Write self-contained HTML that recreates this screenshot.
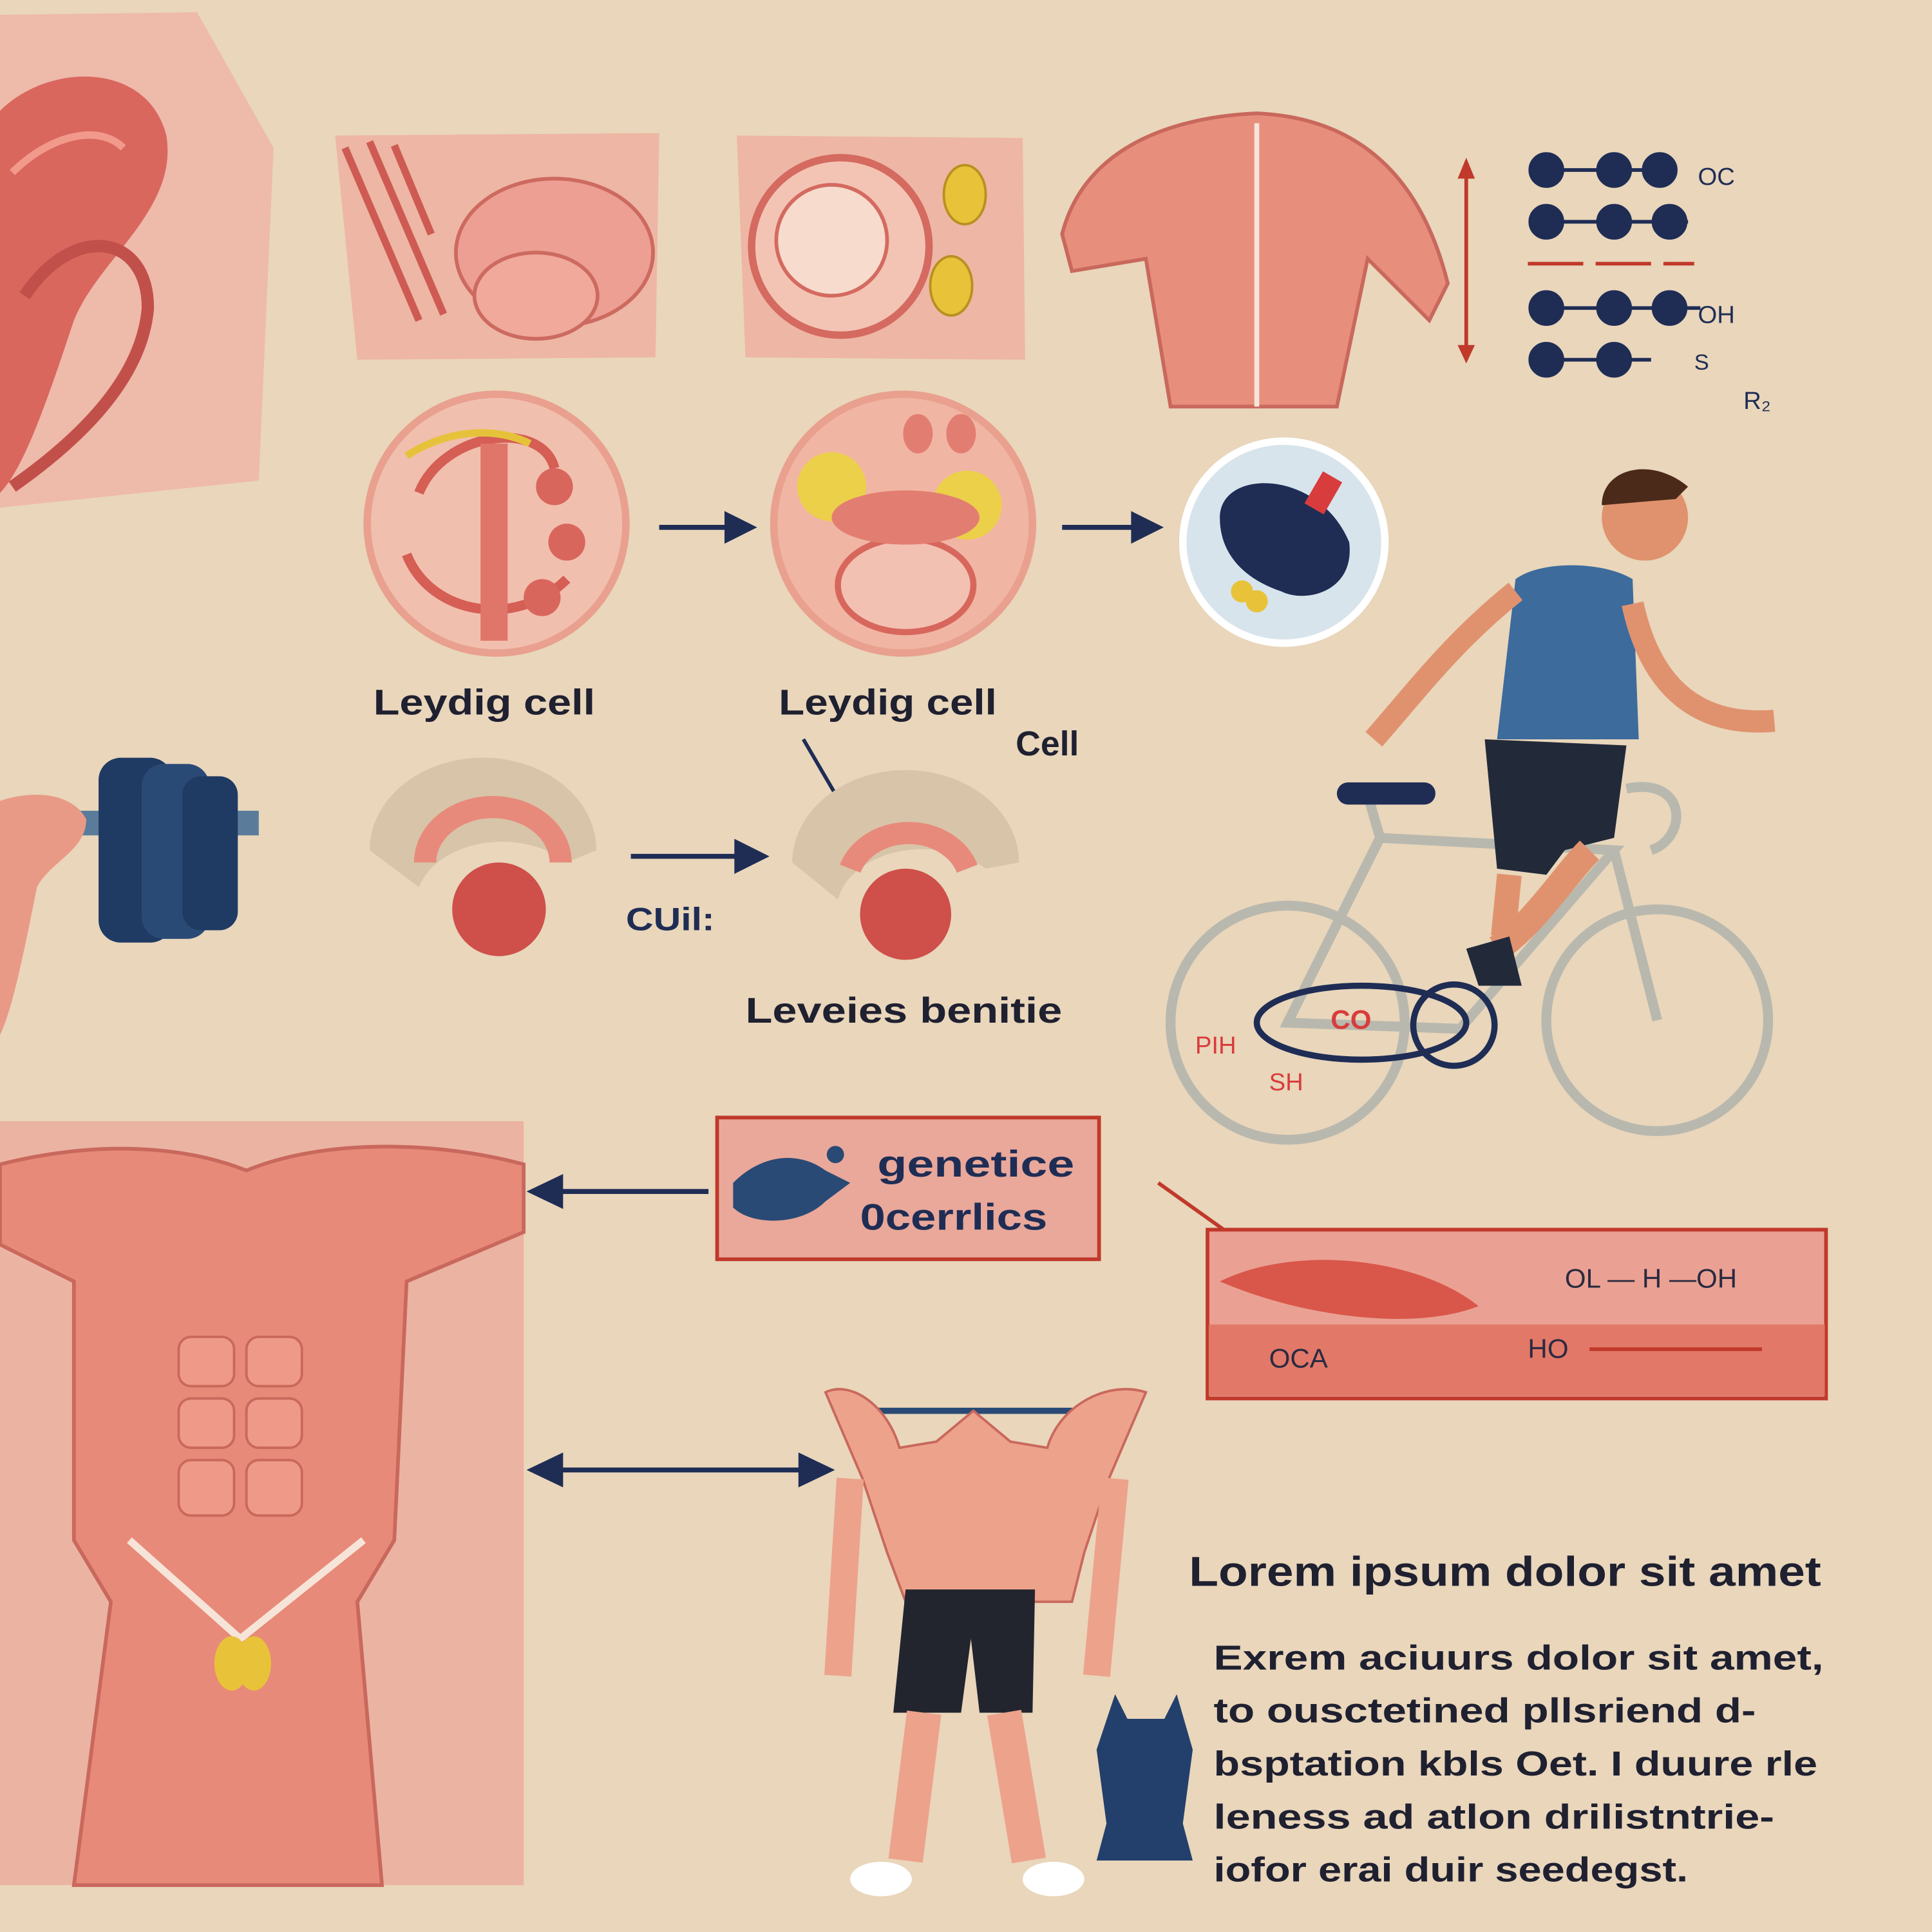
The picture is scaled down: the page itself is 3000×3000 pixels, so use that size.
<!DOCTYPE html>
<html><head><meta charset="utf-8"><style>
html,body{margin:0;padding:0;background:#e9d6bb;}
svg{display:block;}
text{font-family:"Liberation Sans",sans-serif;}
</style></head><body>
<svg width="3000" height="3000" viewBox="0 0 1568 1568" xmlns="http://www.w3.org/2000/svg">
<rect width="1568" height="1568" fill="#e9d6bb"/>

<path d="M0,12 L160,10 L222,120 L210,390 L0,412 Z" fill="#eebaa9"/>
<path d="M0,90 C40,50 120,50 135,110 C145,170 80,210 60,260 C40,320 20,380 0,400 Z" fill="#d9675e"/>
<path d="M20,240 C60,180 120,190 120,250 C115,310 60,360 10,395" fill="none" stroke="#c2504a" stroke-width="10"/>
<path d="M10,140 C40,110 80,100 100,120" fill="none" stroke="#f19a8c" stroke-width="6"/>

<path d="M272,110 L535,108 L532,290 L290,292 Z" fill="#eeb6a4"/>
<path d="M280,120 L340,260 M300,115 L360,255 M320,118 L350,190" stroke="#cd5b54" stroke-width="6" fill="none"/>
<ellipse cx="450" cy="205" rx="80" ry="60" fill="#ec9f92" stroke="#cd6a60" stroke-width="3"/>
<ellipse cx="435" cy="240" rx="50" ry="35" fill="#f0a99a" stroke="#cd6a60" stroke-width="3"/>

<path d="M598,110 L830,112 L832,292 L605,290 Z" fill="#eeb6a4"/>
<circle cx="682" cy="200" r="72" fill="#f3c4b4" stroke="#d46a60" stroke-width="6"/>
<circle cx="675" cy="195" r="45" fill="#f7dbcd" stroke="#d46a60" stroke-width="3"/>
<ellipse cx="783" cy="158" rx="17" ry="24" fill="#e8c33a" stroke="#b99020" stroke-width="2"/>
<ellipse cx="772" cy="232" rx="17" ry="24" fill="#e8c33a" stroke="#b99020" stroke-width="2"/>

<path d="M862,190 C880,120 950,95 1020,92 C1090,95 1150,130 1175,230 L1160,260 L1110,210 L1085,330 L950,330 L930,210 L870,220 Z" fill="#e88e7d" stroke="#c9685c" stroke-width="3"/>
<line x1="1020" y1="100" x2="1020" y2="330" stroke="#f7e4d8" stroke-width="4"/>
<line x1="1190" y1="140" x2="1190" y2="285" stroke="#c0392b" stroke-width="3"/>
<path d="M1183,145 L1190,128 L1197,145 Z M1183,280 L1190,295 L1197,280 Z" fill="#c0392b"/>

<g fill="#1f2d55" stroke="#1f2d55" stroke-width="3">
<line x1="1255" y1="138" x2="1352" y2="138"/><line x1="1255" y1="180" x2="1370" y2="180"/>
<line x1="1255" y1="250" x2="1380" y2="250"/><line x1="1255" y1="292" x2="1340" y2="292"/>
<circle cx="1255" cy="138" r="13"/><circle cx="1310" cy="138" r="13"/><circle cx="1347" cy="138" r="13"/>
<circle cx="1255" cy="180" r="13"/><circle cx="1310" cy="180" r="13"/><circle cx="1355" cy="180" r="13"/>
<circle cx="1255" cy="250" r="13"/><circle cx="1310" cy="250" r="13"/><circle cx="1355" cy="250" r="13"/>
<circle cx="1255" cy="292" r="13"/><circle cx="1310" cy="292" r="13"/>
</g>
<line x1="1240" y1="214" x2="1375" y2="214" stroke="#c0392b" stroke-width="3" stroke-dasharray="45,10"/>
<text x="1378" y="150" font-size="20" fill="#1f2d55">OC</text>
<text x="1378" y="262" font-size="20" fill="#1f2d55">OH</text>
<text x="1375" y="300" font-size="18" fill="#1f2d55">S</text>
<text x="1415" y="332" font-size="20" fill="#1f2d55">R₂</text>

<circle cx="403" cy="425" r="105" fill="#f1bfae" stroke="#e9a08f" stroke-width="6"/>
<path d="M340,400 C360,350 440,340 450,380 M330,450 C350,500 420,510 460,470" stroke="#d55e55" stroke-width="8" fill="none"/>
<rect x="390" y="360" width="22" height="160" fill="#e0756a"/>
<circle cx="450" cy="395" r="15" fill="#d9665d"/><circle cx="460" cy="440" r="15" fill="#d9665d"/><circle cx="440" cy="485" r="15" fill="#d9665d"/>
<path d="M330,370 C360,350 400,345 430,360" stroke="#e6c23a" stroke-width="6" fill="none"/>

<circle cx="733" cy="425" r="105" fill="#f1b5a3" stroke="#e9a08f" stroke-width="6"/>
<circle cx="675" cy="395" r="28" fill="#ecd04a"/><circle cx="785" cy="410" r="28" fill="#ecd04a"/>
<ellipse cx="735" cy="475" rx="55" ry="38" fill="#f3c1b2" stroke="#d7675d" stroke-width="5"/>
<ellipse cx="735" cy="420" rx="60" ry="22" fill="#e27e71"/>
<ellipse cx="745" cy="352" rx="12" ry="16" fill="#e27e71"/><ellipse cx="780" cy="352" rx="12" ry="16" fill="#e27e71"/>

<circle cx="1042" cy="440" r="82" fill="#d8e4ec" stroke="#ffffff" stroke-width="6"/>
<path d="M990,420 C990,380 1070,380 1095,440 C1100,480 1060,490 1040,480 C1010,470 990,450 990,420 Z" fill="#1f2d55"/>
<rect x="1065" y="385" width="18" height="30" fill="#d93c3c" transform="rotate(30 1074 400)"/>
<circle cx="1008" cy="480" r="9" fill="#e8c33a"/><circle cx="1020" cy="488" r="9" fill="#e8c33a"/>

<g stroke="#1f2d55" stroke-width="4" fill="#1f2d55">
<line x1="535" y1="428" x2="595" y2="428"/><path d="M590,418 L610,428 L590,438 Z"/>
<line x1="862" y1="428" x2="925" y2="428"/><path d="M920,418 L940,428 L920,438 Z"/>
<line x1="512" y1="695" x2="605" y2="695"/><path d="M598,684 L620,695 L598,706 Z"/>
<line x1="450" y1="967" x2="575" y2="967"/><path d="M455,956 L432,967 L455,978 Z"/>
<line x1="450" y1="1193" x2="655" y2="1193"/><path d="M455,1182 L432,1193 L455,1204 Z"/><path d="M650,1182 L673,1193 L650,1204 Z"/>
</g>
<line x1="652" y1="600" x2="690" y2="665" stroke="#1f2d55" stroke-width="3"/>

<text x="303" y="580" font-size="29" font-weight="bold" fill="#1f2030" textLength="180" lengthAdjust="spacingAndGlyphs">Leydig cell</text>
<text x="632" y="580" font-size="29" font-weight="bold" fill="#1f2030" textLength="177" lengthAdjust="spacingAndGlyphs">Leydig cell</text>
<text x="850" y="613" font-size="28" font-weight="bold" fill="#1f2030" text-anchor="middle">Cell</text>
<text x="508" y="755" font-size="26" font-weight="bold" fill="#1f2d55" textLength="72" lengthAdjust="spacingAndGlyphs">CUil:</text>
<text x="605" y="830" font-size="29" font-weight="bold" fill="#1f2030" textLength="257" lengthAdjust="spacingAndGlyphs">Leveies benitie</text>

<path d="M300,690 A92,75 0 1 1 484,690 L460,700 A70,50 0 0 0 340,720 Z" fill="#d8c4a8"/>
<path d="M345,700 A55,45 0 0 1 455,700" fill="none" stroke="#e88a7b" stroke-width="18"/>
<circle cx="405" cy="738" r="38" fill="#cf4f4a"/>
<path d="M643,700 A92,75 0 1 1 827,700 L800,705 A70,50 0 0 0 680,730 Z" fill="#d8c4a8"/>
<path d="M690,705 A50,42 0 0 1 785,705" fill="none" stroke="#e88a7b" stroke-width="18"/>
<circle cx="735" cy="742" r="37" fill="#cf4f4a"/>

<rect x="0" y="658" width="210" height="20" fill="#5a7c9a"/>
<rect x="80" y="615" width="60" height="150" rx="18" fill="#1f3a63"/>
<rect x="115" y="620" width="55" height="142" rx="18" fill="#2a4a76"/>
<rect x="148" y="630" width="45" height="125" rx="15" fill="#1f3a63"/>
<path d="M0,650 C30,640 60,645 70,665 C70,690 40,700 30,720 C20,770 10,820 0,840 Z" fill="#e99a87"/>

<g fill="none" stroke="#b8b8ae" stroke-width="8">
<circle cx="1045" cy="830" r="95"/><circle cx="1345" cy="828" r="90"/>
<path d="M1045,830 L1120,680 L1310,690 L1185,835 Z M1310,690 L1345,828 M1120,680 L1110,645"/>
</g>
<rect x="1085" y="635" width="80" height="18" rx="9" fill="#1f2d55"/>
<path d="M1320,640 C1370,630 1370,680 1340,690" stroke="#b8b8ae" stroke-width="8" fill="none"/>
<ellipse cx="1105" cy="830" rx="85" ry="30" fill="none" stroke="#1f2d55" stroke-width="5"/>
<circle cx="1180" cy="832" r="33" fill="none" stroke="#1f2d55" stroke-width="5"/>
<text x="1080" y="835" font-size="22" fill="#d93c3c" font-weight="bold">CO</text>
<text x="970" y="855" font-size="20" fill="#d93c3c">PIH</text>
<text x="1030" y="885" font-size="20" fill="#d93c3c">SH</text>
<path d="M1215,600 L1230,470 C1250,455 1300,455 1325,470 L1330,600 Z" fill="#3d6b9c"/>
<path d="M1205,600 L1320,605 L1310,680 L1270,690 L1255,710 L1215,705 Z" fill="#222a3a"/>
<path d="M1230,480 C1180,520 1150,560 1115,600" stroke="#e0926e" stroke-width="18" fill="none"/>
<path d="M1325,490 C1340,560 1380,590 1440,585" stroke="#e0926e" stroke-width="18" fill="none"/>
<path d="M1290,690 C1270,710 1245,750 1215,770" stroke="#e0926e" stroke-width="22" fill="none"/>
<path d="M1225,710 L1220,760" stroke="#e0926e" stroke-width="20"/>
<path d="M1190,770 L1225,760 L1235,800 L1200,800 Z" fill="#222a3a"/>
<circle cx="1335" cy="420" r="35" fill="#e0926e"/>
<path d="M1300,410 C1300,380 1340,370 1370,395 L1360,405 Z" fill="#4b2a1a"/>

<rect x="0" y="910" width="425" height="620" fill="#ebb3a2"/>
<path d="M0,945 C80,925 150,930 200,950 C260,925 350,925 425,945 L425,1000 L330,1040 L320,1250 L290,1300 L310,1530 L60,1530 L90,1300 L60,1250 L60,1040 L0,1010 Z" fill="#e88a79" stroke="#c9685c" stroke-width="3"/>
<g fill="#ef9a89" stroke="#c9685c" stroke-width="2">
<rect x="145" y="1085" width="45" height="40" rx="10"/><rect x="200" y="1085" width="45" height="40" rx="10"/>
<rect x="145" y="1135" width="45" height="40" rx="10"/><rect x="200" y="1135" width="45" height="40" rx="10"/>
<rect x="145" y="1185" width="45" height="45" rx="10"/><rect x="200" y="1185" width="45" height="45" rx="10"/>
</g>
<path d="M105,1250 L195,1330 L295,1250" stroke="#f7e4d8" stroke-width="6" fill="none"/>
<ellipse cx="188" cy="1350" rx="14" ry="22" fill="#e8c33a"/><ellipse cx="206" cy="1350" rx="14" ry="22" fill="#e8c33a"/>

<rect x="582" y="907" width="310" height="115" fill="#e9a89a" stroke="#c0392b" stroke-width="3"/>
<path d="M595,960 C620,935 650,935 670,950 L690,960 L670,975 C650,995 610,995 595,980 Z" fill="#2a4a76"/>
<circle cx="678" cy="937" r="7" fill="#2a4a76"/>
<text x="712" y="955" font-size="30" font-weight="bold" fill="#1f2d55" textLength="160" lengthAdjust="spacingAndGlyphs">genetice</text>
<text x="698" y="998" font-size="30" font-weight="bold" fill="#1f2d55" textLength="152" lengthAdjust="spacingAndGlyphs">0cerrlics</text>

<line x1="940" y1="960" x2="1010" y2="1010" stroke="#c0392b" stroke-width="3"/>
<rect x="980" y="998" width="502" height="137" fill="#eaa193" stroke="#c0392b" stroke-width="3"/>
<rect x="981" y="1075" width="500" height="58" fill="#e27868"/>
<path d="M990,1040 C1050,1010 1150,1020 1200,1060 C1150,1080 1060,1070 990,1040 Z" fill="#d9574a"/>
<line x1="1290" y1="1095" x2="1430" y2="1095" stroke="#c0392b" stroke-width="3"/>
<text x="1270" y="1045" font-size="22" fill="#2a2a40">OL — H —OH</text>
<text x="1030" y="1110" font-size="22" fill="#2a2a40">OCA</text>
<text x="1240" y="1102" font-size="22" fill="#2a2a40">HO</text>

<path d="M700,1145 L870,1145" stroke="#2a4a76" stroke-width="5"/>
<path d="M670,1130 C690,1120 720,1140 730,1175 L760,1170 L790,1145 L820,1170 L850,1175 C860,1140 900,1120 930,1130 L900,1200 L880,1260 L870,1300 L735,1300 L720,1260 L700,1200 Z" fill="#eda28c" stroke="#c9685c" stroke-width="2"/>
<path d="M690,1200 L680,1360 M905,1200 L890,1360" stroke="#eda28c" stroke-width="22"/>
<path d="M735,1290 L840,1290 L838,1390 L795,1390 L788,1330 L780,1390 L725,1390 Z" fill="#22252e"/>
<path d="M750,1390 L735,1510 M815,1390 L835,1510" stroke="#eda28c" stroke-width="28"/>
<ellipse cx="715" cy="1525" rx="25" ry="14" fill="#fff"/><ellipse cx="855" cy="1525" rx="25" ry="14" fill="#fff"/>

<path d="M905,1375 L915,1395 L945,1395 L955,1375 L968,1420 L960,1480 L968,1510 L890,1510 L898,1480 L890,1420 Z" fill="#22406b"/>

<text x="965" y="1287" font-size="34" font-weight="bold" fill="#1f2030" textLength="513" lengthAdjust="spacingAndGlyphs">Lorem ipsum dolor sit amet</text>
<g font-size="28" fill="#1f2030" font-weight="bold">
<text x="985" y="1355" textLength="495" lengthAdjust="spacingAndGlyphs">Exrem aciuurs dolor sit amet,</text>
<text x="985" y="1398" textLength="440" lengthAdjust="spacingAndGlyphs">to ousctetined pllsriend d-</text>
<text x="985" y="1441" textLength="490" lengthAdjust="spacingAndGlyphs">bsptation kbls Oet. I duure rle</text>
<text x="985" y="1484" textLength="455" lengthAdjust="spacingAndGlyphs">leness ad atlon drilistntrie-</text>
<text x="985" y="1527" textLength="385" lengthAdjust="spacingAndGlyphs">iofor erai duir seedegst.</text>
</g>
</svg>
</body></html>
